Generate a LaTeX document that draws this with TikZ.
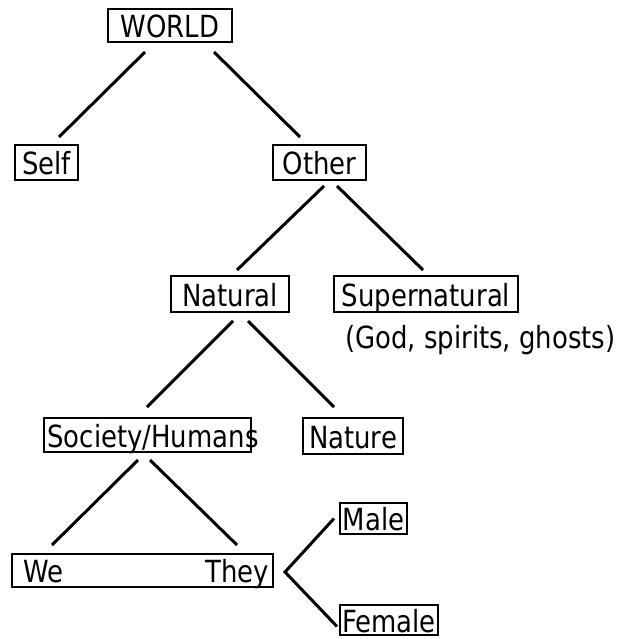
\documentclass[tikz,border=0pt]{standalone}
\usepackage{fontspec}
\setmainfont[FakeStretch=0.85]{DejaVu Sans}
\begin{document}
\begin{tikzpicture}[x=1pt,y=-1pt,
  box/.style={draw=black, line width=2pt, inner sep=0pt, text height=27pt, text depth=3pt,
    font=\fontsize{30.5}{36}\selectfont},
  lbl/.style={inner sep=0pt, text height=27pt, text depth=3pt, font=\fontsize{30.5}{36}\selectfont},
  edge/.style={line width=3pt}]
\path[use as bounding box, fill=white] (0,0) rectangle (621,639);

\node[box, minimum width=124pt, minimum height=33pt] (world) at (170,25.5) {WORLD};
\node[box, minimum width=63pt, minimum height=35pt] (self) at (46.5,162.5) {Self};
\node[box, minimum width=93pt, minimum height=35pt] (other) at (319.5,162.5) {Other};
\node[box, minimum width=118pt, minimum height=36pt] (natural) at (230,294) {Natural};
\node[box, minimum width=184pt, minimum height=36pt] (super) at (426,294) {Supernatural};
\node[lbl, anchor=base west, text height=, text depth=] (god) at (345,348) {(God, spirits, ghosts)};
\node[box, minimum width=207pt, minimum height=34pt] (soc) at (147.5,435) {};
\node[lbl] (soctext) at (153,435) {Society/Humans};
\node[box, minimum width=100pt, minimum height=36pt] (nature) at (353,436) {Nature};
\node[box, minimum width=261pt, minimum height=33pt] (wethey) at (142.5,570.5) {};
\node[lbl] (we) at (43.5,570.5) {We};
\node[lbl] (they) at (237,570.5) {They};
\node[box, minimum width=67pt, minimum height=31pt] (male) at (373.5,518.5) {Male};
\node[box, minimum width=98pt, minimum height=30pt, text height=25pt, text depth=0pt] (female) at (389,619.5) {Female};

\draw[edge] ([xshift=-25pt,yshift=-9pt]world.south) -- ([xshift=12.5pt,yshift=7pt]self.north);
\draw[edge] ([xshift=44pt,yshift=-9pt]world.south) -- ([xshift=-19.5pt,yshift=7pt]other.north);
\draw[edge] ([xshift=4.5pt,yshift=-5pt]other.south) -- ([xshift=7pt,yshift=5pt]natural.north);
\draw[edge] ([xshift=17.5pt,yshift=-5pt]other.south) -- ([xshift=-3pt,yshift=5pt]super.north);
\draw[edge] ([xshift=3pt,yshift=-8pt]natural.south) -- ([xshift=-0.5pt,yshift=10pt]soc.north);
\draw[edge] ([xshift=18pt,yshift=-8pt]natural.south) -- ([xshift=-19pt,yshift=10pt]nature.north);
\draw[edge] ([xshift=-9.5pt,yshift=-7pt]soc.south) -- ([xshift=-90.5pt,yshift=8pt]wethey.north);
\draw[edge] ([xshift=2.5pt,yshift=-7pt]soc.south) -- ([xshift=94.5pt,yshift=8pt]wethey.north);
\draw[edge] ([xshift=-5pt]male.west) -- ([xshift=11pt,yshift=-1.5pt]wethey.east) -- ([xshift=-2pt,yshift=-7pt]female.west);
\end{tikzpicture}
\end{document}
